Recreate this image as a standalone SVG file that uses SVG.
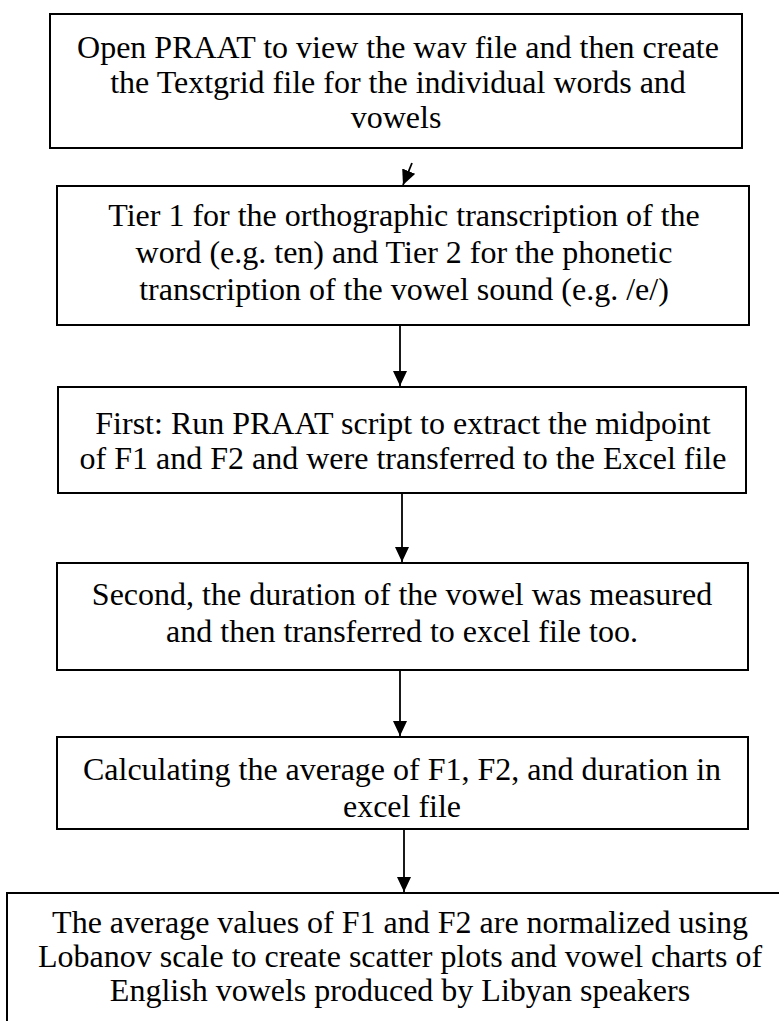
<svg xmlns="http://www.w3.org/2000/svg" width="779" height="1021" viewBox="0 0 779 1021">
<style>
.box{fill:#fff;stroke:#000;stroke-width:2}
.t{font-family:"Liberation Serif","Times New Roman",serif;font-size:32px;fill:#000;text-anchor:middle}
.c{stroke:#000;stroke-width:1.8;fill:none;marker-end:url(#ah)}
</style>
<defs>
<marker id="ah" markerWidth="15" markerHeight="14" refX="15" refY="7" orient="auto" markerUnits="userSpaceOnUse">
<path d="M0,0 L15,7 L0,14 z" fill="#000"/>
</marker>
</defs>
<rect width="779" height="1021" fill="#fff"/>
<g id="node1">
<rect class="box" x="50" y="14" width="692" height="134"/>
<text class="t" x="398" y="58">Open PRAAT to view the wav file and then create</text>
<text class="t" x="398" y="93">the Textgrid file for the individual words and</text>
<text class="t" x="396" y="128">vowels</text>
</g>
<g id="node2">
<rect class="box" x="57" y="186" width="692" height="139"/>
<text class="t" x="404" y="226">Tier 1 for the orthographic transcription of the</text>
<text class="t" x="404" y="263">word (e.g. ten) and Tier 2 for the phonetic</text>
<text class="t" x="404" y="300">transcription of the vowel sound (e.g. /e/)</text>
</g>
<g id="node3">
<rect class="box" x="58" y="387" width="688" height="106"/>
<text class="t" x="403" y="434">First: Run PRAAT script to extract the midpoint</text>
<text class="t" x="403" y="469">of F1 and F2 and were transferred to the Excel file</text>
</g>
<g id="node4">
<rect class="box" x="57" y="563" width="691" height="107"/>
<text class="t" x="402" y="605">Second, the duration of the vowel was measured</text>
<text class="t" x="402" y="642">and then transferred to excel file too.</text>
</g>
<g id="node5">
<rect class="box" x="57" y="737" width="691" height="92"/>
<text class="t" x="402" y="780">Calculating the average of F1, F2, and duration in</text>
<text class="t" x="402" y="817">excel file</text>
</g>
<g id="node6">
<rect class="box" x="7" y="893" width="800" height="150"/>
<text class="t" x="400" y="933">The average values of F1 and F2 are normalized using</text>
<text class="t" x="400" y="967">Lobanov scale to create scatter plots and vowel charts of</text>
<text class="t" x="400" y="1001">English vowels produced by Libyan speakers</text>
</g>
<g id="connectors">
<line class="c" x1="412" y1="163" x2="403" y2="185"/>
<line class="c" x1="400" y1="325" x2="400" y2="386"/>
<line class="c" x1="402" y1="493" x2="402" y2="562"/>
<line class="c" x1="400" y1="670" x2="400" y2="736"/>
<line class="c" x1="404" y1="829" x2="404" y2="892"/>
</g>
</svg>
